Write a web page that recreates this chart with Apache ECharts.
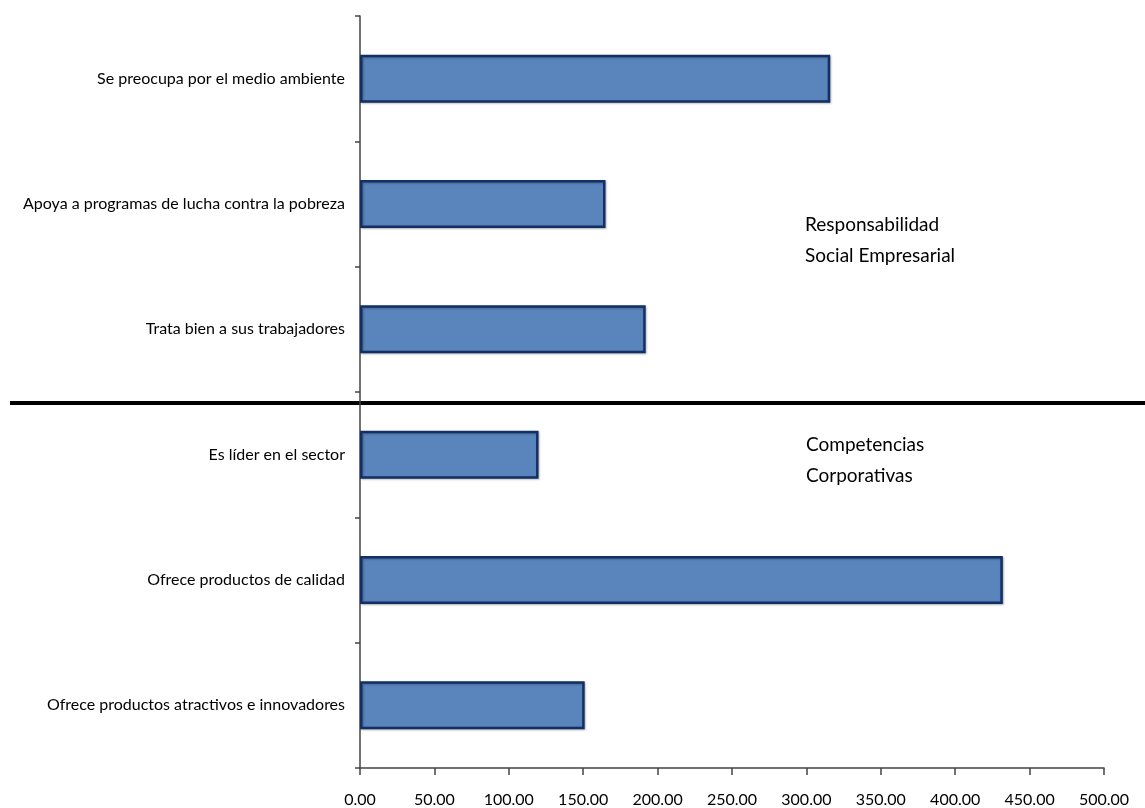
<!DOCTYPE html>
<html>
<head>
<meta charset="utf-8">
<script src="https://cdn.jsdelivr.net/npm/echarts@6/dist/echarts.min.js"></script>
<style>html,body{margin:0;padding:0;background:#fff}#c{width:1145px;height:808px}</style>
</head>
<body>
<div id="c"></div>
<script>
const categories = [
  "Se preocupa por el medio ambiente",
  "Apoya a programas de lucha contra la pobreza",
  "Trata bien a sus trabajadores",
  "Es líder en el sector",
  "Ofrece productos de calidad",
  "Ofrece productos atractivos e innovadores"
];
const values = [316, 165, 192, 120, 432, 151];
const groupLabels = ["Responsabilidad\nSocial Empresarial", "Competencias\nCorporativas"];
const FONT = "Lato, 'Open Sans', sans-serif";

const chart = echarts.init(document.getElementById('c'));
chart.setOption({
  animation: false,
  backgroundColor: '#ffffff',
  grid: { left: 360, right: 41, top: 16, bottom: 40 },
  xAxis: {
    type: 'value', min: 0, max: 500, interval: 50,
    splitLine: { show: false },
    axisLine: { show: true, lineStyle: { color: '#444', width: 1.5 } },
    axisTick: { show: true, length: 7, lineStyle: { color: '#444', width: 1.5 } },
    axisLabel: { margin: 24, color: '#000', fontSize: 16, fontFamily: FONT,
      formatter: v => v.toFixed(2) }
  },
  yAxis: {
    type: 'category', data: categories, inverse: true,
    axisLine: { show: true, lineStyle: { color: '#444', width: 1.5 } },
    axisTick: { show: true, length: 5, lineStyle: { color: '#444', width: 1.5 } },
    axisLabel: { margin: 15, color: '#000', fontSize: 16, fontFamily: FONT }
  },
  series: [{
    type: 'bar', data: values, barWidth: 48,
    itemStyle: {
      color: '#5a84bc', borderColor: '#122f66', borderWidth: 2.5,
      shadowColor: 'rgba(0,0,0,0.25)', shadowBlur: 2, shadowOffsetX: 1, shadowOffsetY: 1
    }
  }],
  graphic: [
    { type: 'line', shape: { x1: 10, y1: 403, x2: 1145, y2: 403 },
      style: { stroke: '#000', lineWidth: 4 } },
    { type: 'text', left: 805, top: 209,
      style: { text: groupLabels[0], fill: '#000', fontSize: 19, lineHeight: 31, fontFamily: FONT } },
    { type: 'text', left: 806, top: 429,
      style: { text: groupLabels[1], fill: '#000', fontSize: 19, lineHeight: 31, fontFamily: FONT } }
  ]
});
</script>
</body>
</html>
